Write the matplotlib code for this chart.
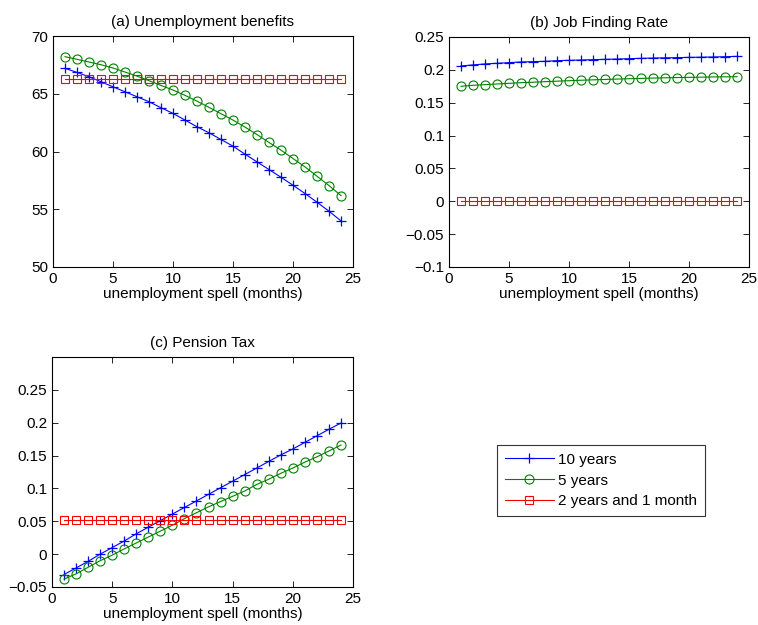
import matplotlib.pyplot as plt
import numpy as np

plt.rcParams['font.family'] = ['Liberation Sans', 'DejaVu Sans']
plt.rcParams['font.size'] = 11

months = np.arange(1, 25)

# (a) Unemployment benefits
benefits_10y = [67.2, 66.85, 66.47, 66.04, 65.6, 65.17, 64.74, 64.31, 63.79, 63.3,
                62.72, 62.14, 61.62, 61.04, 60.46, 59.77, 59.10, 58.44, 57.77, 57.08,
                56.36, 55.61, 54.83, 53.99]
benefits_5y = [68.21, 67.98, 67.75, 67.51, 67.23, 66.88, 66.53, 66.13, 65.72, 65.32,
               64.86, 64.36, 63.82, 63.27, 62.72, 62.11, 61.47, 60.78, 60.12, 59.39,
               58.67, 57.86, 57.05, 56.18]
benefits_2y = [66.3] * 24

# (b) Job finding rate
jfr_10y = [0.206, 0.2075, 0.209, 0.210, 0.211, 0.212, 0.2125, 0.213, 0.214, 0.2145,
           0.215, 0.2155, 0.216, 0.2165, 0.217, 0.2175, 0.218, 0.2183, 0.2186, 0.219,
           0.2193, 0.2196, 0.220, 0.2205]
jfr_5y = [0.175, 0.1765, 0.1775, 0.1785, 0.1795, 0.1805, 0.1812, 0.182, 0.1828, 0.1835,
          0.1842, 0.1848, 0.1854, 0.186, 0.1865, 0.187, 0.1875, 0.1879, 0.1883, 0.1886,
          0.1889, 0.1892, 0.1894, 0.1896]
jfr_2y = [0.0] * 24

# (c) Pension tax
tax_10y = [-0.031, -0.021, -0.011, 0.000, 0.010, 0.020, 0.031, 0.041, 0.051, 0.061,
           0.071, 0.081, 0.091, 0.101, 0.111, 0.121, 0.131, 0.141, 0.151, 0.160,
           0.170, 0.180, 0.190, 0.1995]
tax_5y = [-0.038, -0.030, -0.020, -0.010, -0.0015, 0.008, 0.017, 0.026, 0.035, 0.044,
          0.054, 0.063, 0.072, 0.080, 0.088, 0.096, 0.106, 0.114, 0.123, 0.131,
          0.140, 0.148, 0.157, 0.166]
tax_2y = [0.0515] * 24

labels = ['10 years', '5 years', '2 years and 1 month']

W, H = 758, 625
fig = plt.figure(figsize=(W / 100, H / 100), dpi=100)


def make_axes(left, top, right, bottom):
    return fig.add_axes([left / W, 1 - bottom / H, (right - left) / W, (bottom - top) / H])


def draw(ax, s10, s5, s2, title):
    l1, = ax.plot(months, s10, color='#0000ff', marker='+', markersize=7, lw=0.8, mew=0.9)
    l2, = ax.plot(months, s5, color='#008000', marker='o', markersize=6.5, lw=0.8,
                  mfc='none', mew=0.8)
    l3, = ax.plot(months, s2, color='#ff0000', marker='s', markersize=5.5, lw=0.8,
                  mfc='none', mec='#ff0000', mew=0.8)
    ax.set_title(title, fontsize=11, pad=7)
    ax.set_xlim(0, 25)
    ax.set_xticks([0, 5, 10, 15, 20, 25])
    ax.set_xlabel('unemployment spell (months)', labelpad=1)
    ax.tick_params(direction='in', top=True, right=True, length=4, width=0.6, labelsize=11)
    for sp in ax.spines.values():
        sp.set_linewidth(0.8)
    return l1, l2, l3


ax1 = make_axes(53, 36, 353, 267)
draw(ax1, benefits_10y, benefits_5y, benefits_2y, '(a) Unemployment benefits')
ax1.set_ylim(50, 70)
ax1.set_yticks([50, 55, 60, 65, 70])

ax2 = make_axes(449, 37, 749, 267)
draw(ax2, jfr_10y, jfr_5y, jfr_2y, '(b) Job Finding Rate')
ax2.set_ylim(-0.1, 0.25)
ax2.set_yticks([-0.1, -0.05, 0, 0.05, 0.1, 0.15, 0.2, 0.25])
ax2.set_yticklabels(['\u22120.1', '\u22120.05', '0', '0.05', '0.1', '0.15', '0.2', '0.25'])

ax3 = make_axes(52, 357, 353, 587)
lines = draw(ax3, tax_10y, tax_5y, tax_2y, '(c) Pension Tax')
ax3.set_ylim(-0.05, 0.3)
ax3.set_yticks([-0.05, 0, 0.05, 0.1, 0.15, 0.2, 0.25])
ax3.set_yticklabels(['\u22120.05', '0', '0.05', '0.1', '0.15', '0.2', '0.25'])

leg = fig.legend(lines, labels, loc='upper left', bbox_to_anchor=(497 / W, 1 - 445 / H),
                 frameon=True, fancybox=False, edgecolor='black', fontsize=11,
                 handlelength=3.2, borderpad=0.5, labelspacing=0.45, handletextpad=0.3,
                 borderaxespad=0)
leg.get_frame().set_linewidth(0.8)

fig.savefig('out.png', dpi=100)
